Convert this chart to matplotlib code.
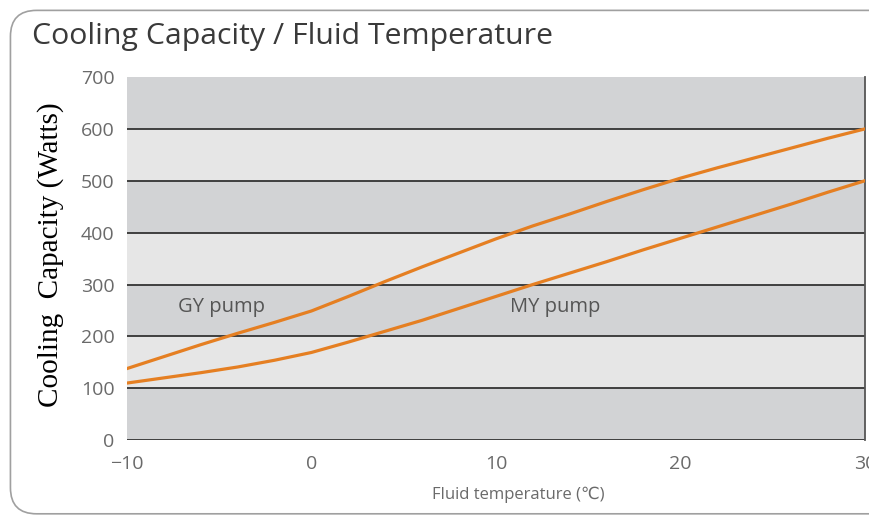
import matplotlib.pyplot as plt
from matplotlib.patches import FancyBboxPatch

# data
temps = [-10, -8, -6, -4, -2, 0, 2, 4, 6, 8, 10, 12, 14, 16, 18, 20, 22, 24, 26, 28, 30]
gy_pump = [138, 161, 184, 206, 227, 249, 277, 306, 334, 361, 388, 413, 436, 460, 483, 505,
           525, 544, 563, 582, 600]
my_pump = [110, 120, 130, 141, 154, 169, 189, 210, 231, 254, 277, 300, 322, 344, 367, 389,
           411, 433, 455, 478, 500]
y_ticks = [0, 100, 200, 300, 400, 500, 600, 700]
x_ticks = [-10, 0, 10, 20, 30]

DARK = '#d2d3d5'
LIGHT = '#e6e6e6'
ORANGE = '#e57f22'
GREY_TXT = '#6a6a6a'
SANS = ['Open Sans', 'DejaVu Sans']

fig = plt.figure(figsize=(8.7, 5.19), dpi=100)

# rounded outer frame, drawn under the axes
frame = FancyBboxPatch((0.012, 0.01), 1.2, 0.97, boxstyle='round,pad=0,rounding_size=0.03',
                       transform=fig.transFigure, facecolor='white', edgecolor='#a0a0a0',
                       linewidth=1.2, mutation_aspect=870/519, zorder=-5)
fig.patches.append(frame)

ax = fig.add_axes([0.146, 0.152, 0.848, 0.6995])
ax.set_zorder(2)

# alternating bands
for i in range(len(y_ticks) - 1):
    col = DARK if i % 2 == 0 else LIGHT
    ax.axhspan(y_ticks[i], y_ticks[i + 1], color=col, zorder=0, lw=0)
for y in y_ticks[:-1]:
    ax.axhline(y, color='#333333', lw=1.3, zorder=1)

ax.plot(temps, gy_pump, color=ORANGE, lw=2.3, zorder=3)
ax.plot(temps, my_pump, color=ORANGE, lw=2.3, zorder=3)

ax.text(-4.9, 256, 'GY pump', fontsize=14.5, color='#555555', ha='center', va='center',
        family=SANS)
ax.text(13.2, 256, 'MY pump', fontsize=14.5, color='#555555', ha='center', va='center',
        family=SANS)

ax.set_xlim(-10, 30)
ax.set_ylim(0, 700)
ax.set_xticks(x_ticks)
ax.set_xticklabels(['\u221210', '0', '10', '20', '30'])
ax.set_yticks(y_ticks)
ax.tick_params(length=0, labelsize=14, labelcolor=GREY_TXT, pad=9)
for lab in ax.get_xticklabels() + ax.get_yticklabels():
    lab.set_family(SANS)
ax.tick_params(axis='x', pad=11)

for s in ['left', 'top', 'bottom']:
    ax.spines[s].set_visible(False)
ax.spines['right'].set_color('#555555')
ax.spines['right'].set_linewidth(1.3)

ax.set_xlabel('Fluid temperature (\u2103)', fontsize=12, color=GREY_TXT, family=SANS)
ax.xaxis.set_label_coords(0.53, -0.152)
ax.xaxis.label.set_va('center')
fig.text(0.058, 0.51, 'Cooling  Capacity (Watts)', rotation=90, fontsize=21,
         family='Liberation Serif', ha='center', va='center', color='black')

fig.text(0.037, 0.93, 'Cooling Capacity / Fluid Temperature', fontsize=21.8,
         color='#3a3a3a', family=SANS, ha='left', va='center')

fig.savefig('out.png', dpi=100)
